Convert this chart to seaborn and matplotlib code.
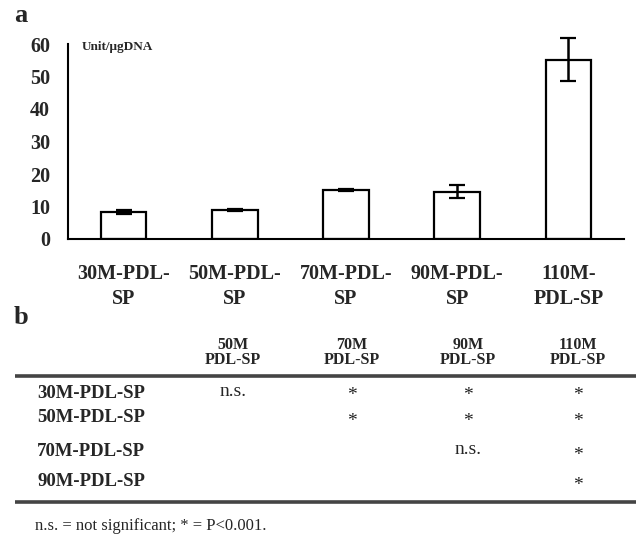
import matplotlib
matplotlib.use("Agg")
import matplotlib.pyplot as plt
import seaborn as sns
import pandas as pd

# Panel a: enzyme activity per sample
categories = ["30M-PDL-\nSP", "50M-PDL-\nSP", "70M-PDL-\nSP", "90M-PDL-\nSP", "110M-\nPDL-SP"]
activity = [8.4, 9.0, 15.2, 14.6, 55.2]
activity_err = [0.6, 0.3, 0.3, 1.9, 6.7]
y_ticks = [0, 10, 20, 30, 40, 50, 60]
y_unit = "Unit/\u03bcgDNA"

# Panel b: pairwise significance table
col_top = ["50M", "70M", "90M", "110M"]
col_bottom = ["PDL-SP", "PDL-SP", "PDL-SP", "PDL-SP"]
row_labels = ["30M-PDL-SP", "50M-PDL-SP", "70M-PDL-SP", "90M-PDL-SP"]
cells = [
    ["n.s.", "*", "*", "*"],
    ["", "*", "*", "*"],
    ["", "", "n.s.", "*"],
    ["", "", "", "*"],
]
footnote = "n.s. = not significant; * = P<0.001."

sns.set_theme(style="white")
plt.rcParams["font.family"] = ["Liberation Serif", "DejaVu Serif"]

W, H = 636, 534
fig = plt.figure(figsize=(W / 100, H / 100), dpi=100)

# ---- bar chart ----
ax = fig.add_axes([68 / W, (H - 239) / H, (624 - 68) / W, 195 / H])
df = pd.DataFrame({"cat": categories, "val": activity})
sns.barplot(data=df, x="cat", y="val", ax=ax, color="white", edgecolor="black",
            linewidth=1.6, width=0.41, errorbar=None, saturation=1)
eb = ax.errorbar(range(len(activity)), activity, yerr=activity_err, fmt="none",
                 ecolor="black", elinewidth=1.8, capsize=5.5, capthick=1.6)
for art in eb.lines[1] + eb.lines[2]:
    art.set_clip_on(False)
ax.set_xlim(-0.5, len(categories) - 0.5)
ax.set_ylim(0, 60)
ax.set_yticks(y_ticks)
ax.set_yticklabels([str(t) for t in y_ticks], fontsize=14.5, fontweight="bold")
ax.set_xticks(range(len(categories)))
ax.set_xticklabels(categories, fontsize=14.5, fontweight="bold", linespacing=1.3)
ax.set_xticks([i + 0.5 for i in range(len(categories))], minor=True)
ax.tick_params(axis="x", which="major", length=0, pad=18)
ax.tick_params(axis="x", which="minor", direction="in", length=4, width=1.2, color="black")
ax.tick_params(axis="y", which="major", direction="in", length=4, width=1.2, color="black", pad=13)
ax.set_xlabel("")
ax.set_ylabel("")
for s in ["top", "right"]:
    ax.spines[s].set_visible(False)
for s in ["left", "bottom"]:
    ax.spines[s].set_color("black")
    ax.spines[s].set_linewidth(1.5)
ax.text(0.025, 0.985, y_unit, transform=ax.transAxes, fontsize=9.5,
        fontweight="bold", ha="left", va="center")

# ---- overlay in pixel coordinates for labels and table ----
ov = fig.add_axes([0, 0, 1, 1], facecolor="none")
ov.set_xlim(0, W)
ov.set_ylim(H, 0)
ov.axis("off")

ov.text(14, 15, "a", fontsize=19, fontweight="bold", ha="left", va="center")
ov.text(14, 318, "b", fontsize=19, fontweight="bold", ha="left", va="center")

col_x = [233, 352, 468, 578]
row_y = [393, 418, 452, 482]

for x, t, b in zip(col_x, col_top, col_bottom):
    ov.text(x, 345, t, fontsize=11.5, fontweight="bold", ha="center", va="center")
    ov.text(x, 360, b, fontsize=11.5, fontweight="bold", ha="center", va="center")

ov.plot([15, W], [376, 376], color="#444444", lw=2.6, solid_capstyle="butt")
ov.plot([15, W], [502, 502], color="#444444", lw=2.6, solid_capstyle="butt")

for y, lab, row in zip(row_y, row_labels, cells):
    ov.text(37, y, lab, fontsize=13.5, fontweight="bold", ha="left", va="center")
    for x, c in zip(col_x, row):
        if c == "*":
            ov.text(x, y + 3, c, fontsize=14, ha="center", va="center", color="#222222")
        elif c:
            ov.text(x, y - 2, c, fontsize=14, ha="center", va="center")

ov.text(35, 526, footnote, fontsize=12, ha="left", va="center")

fig.savefig("out.png", dpi=100)
